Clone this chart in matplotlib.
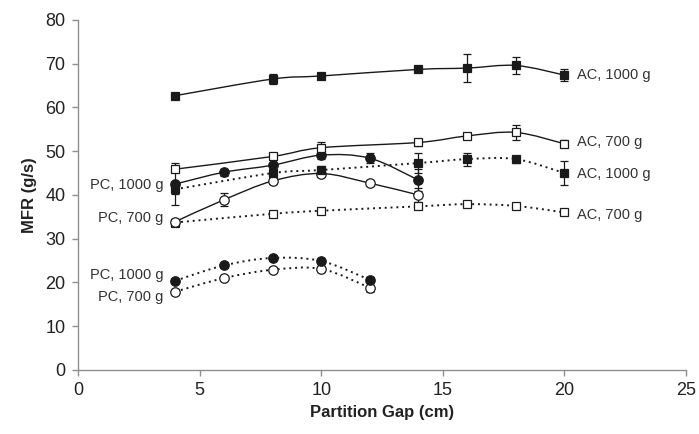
import numpy as np
import matplotlib
matplotlib.use('Agg')
import matplotlib.pyplot as plt
from matplotlib.path import Path
from matplotlib.patches import PathPatch

plt.rcParams['font.family'] = ['Liberation Sans', 'DejaVu Sans']

# partition gaps (cm)
gap_ac = [4, 8, 10, 14, 16, 18, 20]
gap_pc = [4, 6, 8, 10, 12, 14]
gap_pc_low = [4, 6, 8, 10, 12]

# solid-line group
ac1000_a = [62.7, 66.5, 67.2, 68.7, 69.0, 69.6, 67.4]
ac1000_a_err = [0.5, 1.2, 0.5, 0.5, 3.2, 2.0, 1.3]
ac700_a = [45.9, 48.8, 50.8, 52.0, 53.5, 54.3, 51.7]
ac700_a_err = [0.7, 0.8, 1.2, 0.8, 0.6, 1.8, 0.8]
pc1000_a = [42.5, 45.2, 46.8, 49.1, 48.4, 43.4]
pc1000_a_err = [4.8, 0.8, 2.0, 0.8, 1.2, 2.5]
pc700_a = [33.9, 38.9, 43.2, 44.9, 42.7, 40.0]
pc700_a_err = [0.5, 1.5, 0.8, 0.8, 0.7, 1.5]

# dotted-line group
ac1000_b = [41.3, 45.0, 45.7, 47.3, 48.2, 48.2, 45.0]
ac1000_b_err = [1.0, 2.0, 1.0, 2.2, 1.5, 0.8, 2.7]
ac700_b = [33.7, 35.7, 36.4, 37.4, 37.9, 37.5, 36.0]
ac700_b_err = [0.6, 0.6, 0.6, 0.7, 0.7, 0.6, 0.5]
pc1000_b = [20.4, 23.9, 25.6, 24.9, 20.6]
pc1000_b_err = [0.5, 0.5, 0.5, 0.5, 0.6]
pc700_b = [17.9, 21.0, 22.9, 23.1, 18.8]
pc700_b_err = [0.5, 0.5, 0.6, 0.6, 1.0]

labels = ['AC, 1000 g', 'AC, 700 g', 'PC, 1000 g', 'PC, 700 g']

INK = '#1a1a1a'
AXIS_GRAY = '#8f8f8f'


def smooth_path(x, y):
    # excel-like smoothed line, bezier segments through every point
    n = len(x)
    verts = [(x[0], y[0])]
    codes = [Path.MOVETO]
    for i in range(n - 1):
        xp, yp = (x[i - 1], y[i - 1]) if i > 0 else (x[i], y[i])
        xn, yn = (x[i + 2], y[i + 2]) if i + 2 < n else (x[i + 1], y[i + 1])
        c1 = (x[i] + (x[i + 1] - xp) / 6.0, y[i] + (y[i + 1] - yp) / 6.0)
        c2 = (x[i + 1] - (xn - x[i]) / 6.0, y[i + 1] - (yn - y[i]) / 6.0)
        verts += [c1, c2, (x[i + 1], y[i + 1])]
        codes += [Path.CURVE4] * 3
    return Path(verts, codes)


def draw_series(ax, x, y, err, marker, filled, dotted, label, side, dy):
    ls = (0, (1, 2)) if dotted else '-'
    lw = 1.4 if dotted else 1.0
    ax.add_patch(PathPatch(smooth_path(x, y), fill=False, edgecolor=INK,
                           linestyle=ls, linewidth=lw, zorder=2))
    ax.errorbar(x, y, yerr=err, fmt='none', ecolor=INK, elinewidth=0.9,
                capsize=2.6, capthick=0.9, zorder=3)
    size = 6.3 if marker == 's' else 6.8
    ax.plot(x, y, linestyle='none', marker=marker, markersize=size,
            markerfacecolor=INK if filled else 'white', markeredgecolor=INK,
            markeredgewidth=0.9, zorder=4)
    if side == 'left':
        ax.annotate(label, (x[0], y[0]), xytext=(-8.5, dy), textcoords='offset points',
                    ha='right', va='center', fontsize=10.5, color='#333333')
    else:
        ax.annotate(label, (x[-1], y[-1]), xytext=(9.0, dy), textcoords='offset points',
                    ha='left', va='center', fontsize=10.5, color='#333333')


def main():
    fig = plt.figure(figsize=(6.99, 4.34), dpi=100)
    ax = fig.add_axes([0.1116, 0.1475, 0.8698, 0.8065])

    draw_series(ax, gap_pc_low, pc700_b, pc700_b_err, 'o', False, True, labels[3], 'left', -3.5)
    draw_series(ax, gap_pc_low, pc1000_b, pc1000_b_err, 'o', True, True, labels[2], 'left', 3.8)
    draw_series(ax, gap_ac, ac700_b, ac700_b_err, 's', False, True, labels[1], 'right', -1.8)
    draw_series(ax, gap_pc, pc700_a, pc700_a_err, 'o', False, False, labels[3], 'left', 2.5)
    draw_series(ax, gap_ac, ac1000_b, ac1000_b_err, 's', True, True, labels[0], 'right', -0.5)
    draw_series(ax, gap_pc, pc1000_a, pc1000_a_err, 'o', True, False, labels[2], 'left', -0.5)
    draw_series(ax, gap_ac, ac700_a, ac700_a_err, 's', False, False, labels[1], 'right', 1.2)
    draw_series(ax, gap_ac, ac1000_a, ac1000_a_err, 's', True, False, labels[0], 'right', 0.0)

    ax.set_xlim(0, 25)
    ax.set_ylim(0, 80)
    ax.set_xticks(np.arange(0, 26, 5))
    ax.set_yticks(np.arange(0, 81, 10))
    for side in ['top', 'right']:
        ax.spines[side].set_visible(False)
    for side in ['left', 'bottom']:
        ax.spines[side].set_color(AXIS_GRAY)
        ax.spines[side].set_linewidth(1.0)
    ax.tick_params(direction='out', length=4, width=1.0, color=AXIS_GRAY,
                   labelsize=13, labelcolor='#222222', pad=5)

    ax.set_xlabel('Partition Gap (cm)', fontsize=12, fontweight='bold', color='#222222', labelpad=4)
    ax.set_ylabel('MFR (g/s)', fontsize=12, fontweight='bold', color='#222222', labelpad=6)

    fig.savefig('out.png', dpi=100)


if __name__ == "__main__":
    main()
